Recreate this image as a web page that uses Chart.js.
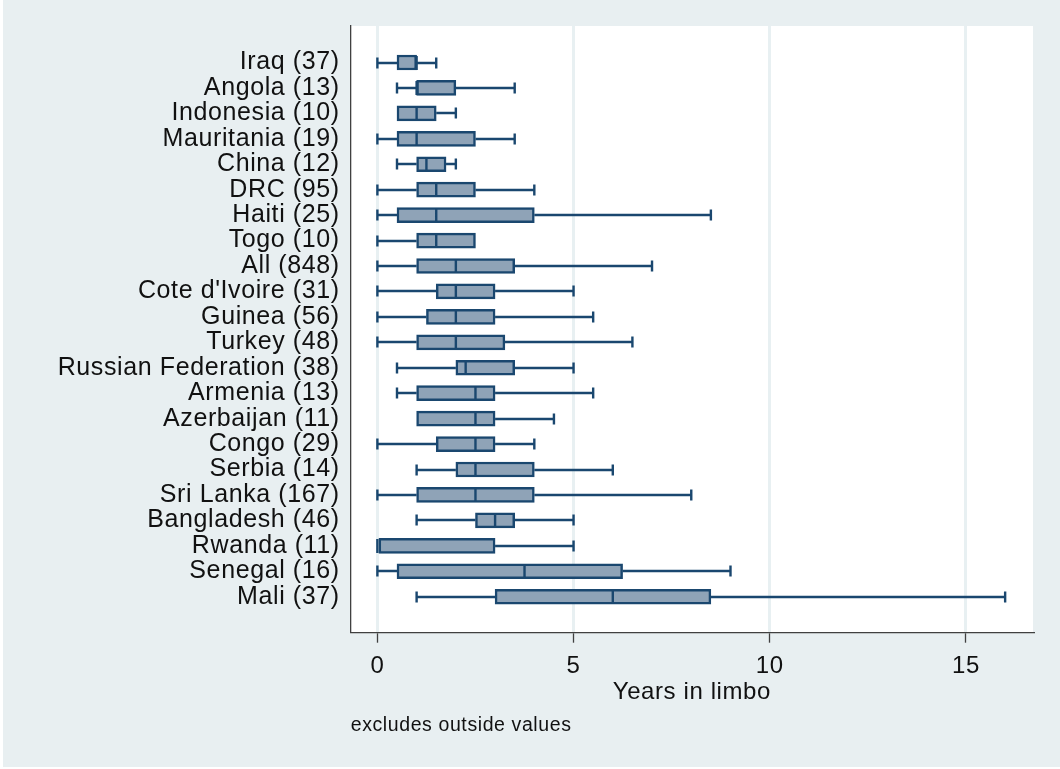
<!DOCTYPE html>
<html>
<head>
<meta charset="utf-8">
<script src="https://cdn.jsdelivr.net/npm/chart.js@4/dist/chart.umd.min.js"></script>
<style>
  html, body { margin: 0; padding: 0; background: #ffffff; }
  #c { display: block; }
</style>
</head>
<body>
<canvas id="c" width="1060" height="769"></canvas>
<script>
// Years in limbo by country of origin: box plots (outside values excluded)
const countries = [
  "Iraq (37)", "Angola (13)", "Indonesia (10)", "Mauritania (19)", "China (12)",
  "DRC (95)", "Haiti (25)", "Togo (10)", "All (848)", "Cote d'Ivoire (31)",
  "Guinea (56)", "Turkey (48)", "Russian Federation (38)", "Armenia (13)",
  "Azerbaijan (11)", "Congo (29)", "Serbia (14)", "Sri Lanka (167)",
  "Bangladesh (46)", "Rwanda (11)", "Senegal (16)", "Mali (37)"
];
const lowerWhisker  = [0,   0.5, 0.5, 0,   0.5,  0,   0,   0,   0,   0,   0,    0,    0.5,  0.5, 1,   0,   1,   0,   1,   0, 0,    1];
const lowerQuartile = [0.5, 1,   0.5, 0.5, 1,    1,   0.5, 1,   1,   1.5, 1.25, 1,    2,    1,   1,   1.5, 2,   1,   2.5, 0, 0.5,  3];
const medianYears   = [1,   1,   1,   1,   1.25, 1.5, 1.5, 1.5, 2,   2,   2,    2,    2.25, 2.5, 2.5, 2.5, 2.5, 2.5, 3,   0, 3.75, 6];
const upperQuartile = [1,   2,   1.5, 2.5, 1.75, 2.5, 4,   2.5, 3.5, 3,   3,    3.25, 3.5,  3,   3,   3,   4,   4,   3.5, 3, 6.25, 8.5];
const upperWhisker  = [1.5, 3.5, 2,   3.5, 2,    4,   8.5, 2.5, 7,   5,   5.5,  6.5,  5,    5.5, 4.5, 4,   6,   8,   5,   5, 9,    16];
const xTickValues = [0, 5, 10, 15];

const NAVY = '#1a476f';
const BOX_FILL = '#8fa3b7';
const PAGE_BG = '#e8eff1';
const GRID = '#e8f0f2';
const AXIS = '#404040';
const TEXT = '#111111';
const FAMILY = "'Liberation Sans', Arial, Helvetica, sans-serif";
const SPACING = '0.6px';

const boxes = countries.map((_, i) => ({ x: [lowerQuartile[i], upperQuartile[i]], y: i }));

// page background, white plot region, and slightly opened-up text spacing
const backdrop = {
  id: 'backdrop',
  beforeInit(chart) { chart.ctx.letterSpacing = SPACING; },
  beforeUpdate(chart) { chart.ctx.letterSpacing = SPACING; },
  beforeDraw(chart) {
    const { ctx, chartArea: a } = chart;
    ctx.save();
    ctx.fillStyle = '#ffffff';
    ctx.fillRect(0, 0, chart.width, chart.height);
    ctx.fillStyle = PAGE_BG;
    ctx.fillRect(3, 0, chart.width - 3, chart.height - 2);
    ctx.fillStyle = '#ffffff';
    ctx.fillRect(a.left, a.top, a.right - a.left, a.bottom - a.top);
    ctx.restore();
    ctx.letterSpacing = SPACING;
  }
};

// whiskers with end caps, and the median line inside each box
const whiskers = {
  id: 'whiskers',
  afterDatasetsDraw(chart) {
    const { ctx } = chart;
    const xs = chart.scales.x, ys = chart.scales.y;
    const half = 7, cap = 5.5;
    ctx.save();
    ctx.strokeStyle = NAVY;
    ctx.lineWidth = 2.4;
    ctx.lineCap = 'butt';
    countries.forEach((_, i) => {
      const py = Math.round(ys.getPixelForValue(i));
      const lo = xs.getPixelForValue(lowerWhisker[i]);
      const q1 = xs.getPixelForValue(lowerQuartile[i]);
      const md = xs.getPixelForValue(medianYears[i]);
      const q3 = xs.getPixelForValue(upperQuartile[i]);
      const hi = xs.getPixelForValue(upperWhisker[i]);
      ctx.beginPath();
      if (lowerWhisker[i] < lowerQuartile[i]) {
        ctx.moveTo(lo, py); ctx.lineTo(q1, py);
        ctx.moveTo(lo, py - cap); ctx.lineTo(lo, py + cap);
      }
      if (upperWhisker[i] > upperQuartile[i]) {
        ctx.moveTo(q3, py); ctx.lineTo(hi, py);
        ctx.moveTo(hi, py - cap); ctx.lineTo(hi, py + cap);
      }
      ctx.moveTo(md, py - half); ctx.lineTo(md, py + half);
      ctx.stroke();
    });
    ctx.restore();
  }
};

new Chart(document.getElementById('c').getContext('2d'), {
  type: 'bar',
  data: {
    datasets: [{
      data: boxes,
      backgroundColor: BOX_FILL,
      borderColor: NAVY,
      borderWidth: 2.5,
      borderSkipped: false,
      barThickness: 15
    }]
  },
  options: {
    indexAxis: 'y',
    responsive: false,
    devicePixelRatio: 1,
    animation: false,
    layout: { padding: { left: 0, right: 27, top: 26, bottom: 31.7 } },
    plugins: {
      legend: { display: false },
      tooltip: { enabled: false },
      subtitle: {
        display: true,
        text: 'excludes outside values',
        position: 'bottom',
        align: 'start',
        fullSize: false,
        color: TEXT,
        font: { family: FAMILY, size: 19.5, weight: 'normal' },
        padding: 0
      }
    },
    scales: {
      x: {
        type: 'linear',
        position: 'bottom',
        min: -0.68,
        max: 16.71,
        afterBuildTicks: s => { s.ticks = xTickValues.map(v => ({ value: v })); },
        afterFit: s => { s.height = 81.2; },
        grid: {
          color: GRID,
          lineWidth: 3,
          drawTicks: true,
          tickColor: AXIS,
          tickWidth: 1.3,
          tickLength: 10
        },
        border: { display: true, color: AXIS, width: 1.3 },
        ticks: {
          padding: 9,
          autoSkip: false,
          maxRotation: 0,
          color: TEXT,
          font: { family: FAMILY, size: 24 }
        },
        title: {
          display: true,
          text: 'Years in limbo',
          color: TEXT,
          font: { family: FAMILY, size: 24 },
          padding: { top: 0, bottom: 7 }
        }
      },
      y: {
        type: 'linear',
        reverse: true,
        offset: false,
        min: -1.435,
        max: 22.415,
        afterBuildTicks: s => { s.ticks = countries.map((_, i) => ({ value: i })); },
        afterFit: s => { s.width = 350.7; },
        grid: { display: true, offset: false, drawOnChartArea: false, drawTicks: false },
        border: { display: true, color: AXIS, width: 1.3 },
        ticks: {
          padding: 11,
          autoSkip: false,
          color: TEXT,
          font: { family: FAMILY, size: 25 },
          callback: v => countries[v]
        }
      }
    }
  },
  plugins: [backdrop, whiskers]
});
</script>
</body>
</html>
